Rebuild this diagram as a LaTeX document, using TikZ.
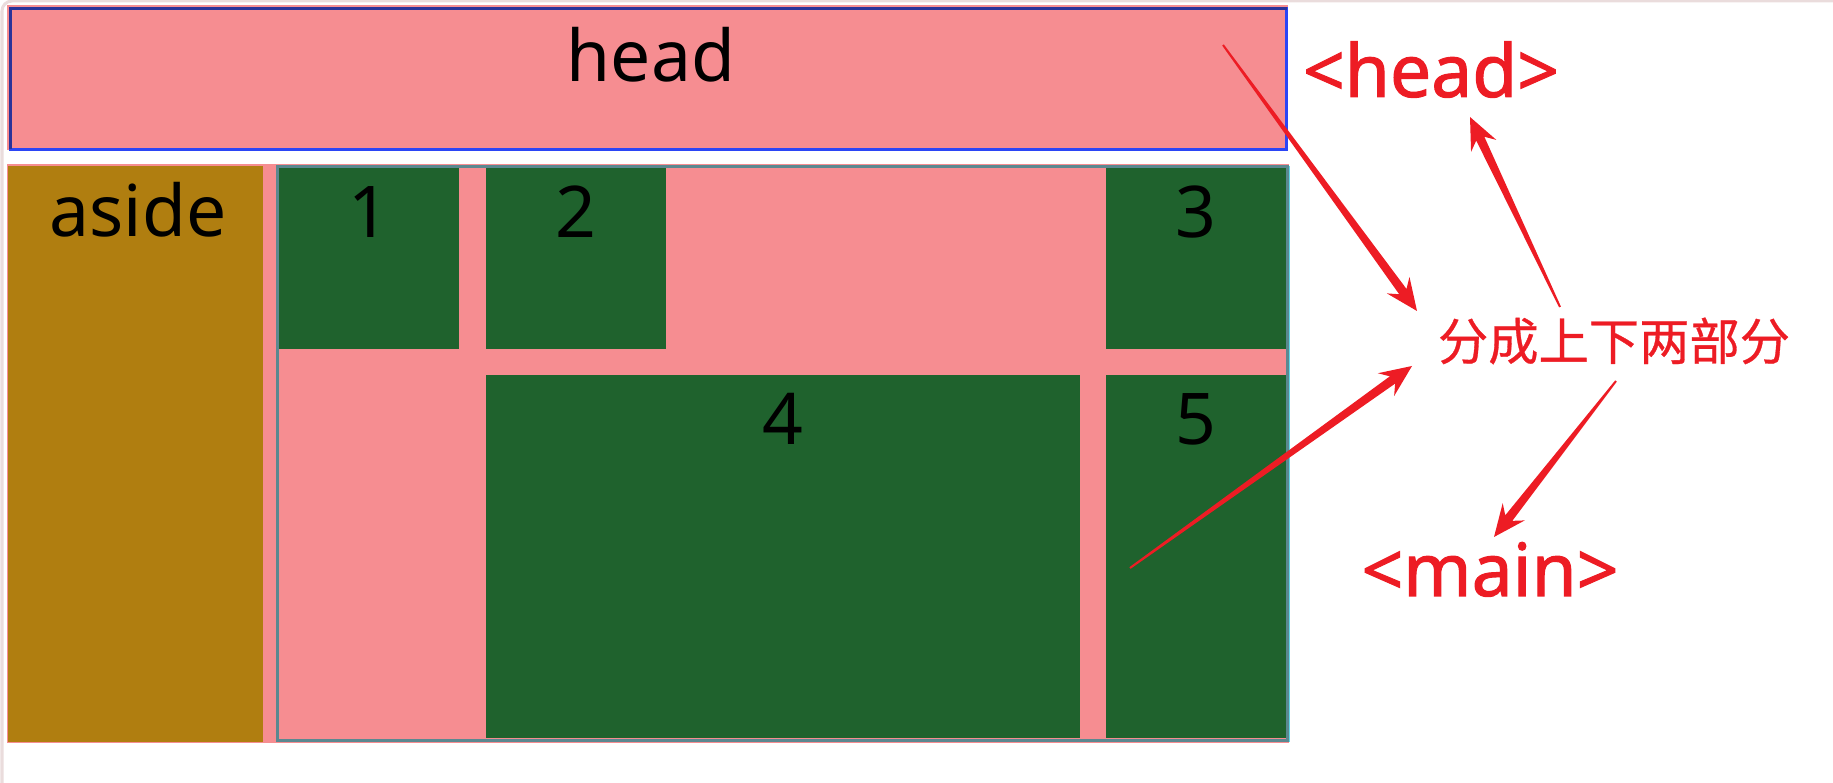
\documentclass[tikz,border=0pt]{standalone}
\usepackage{fontspec}
\setmainfont{Noto Sans}
\newfontfamily\tagfont{Noto Sans}[FakeBold=1.4]
\newfontfamily\cjk{Noto Sans CJK SC}[FakeBold=0.6]
\usetikzlibrary{calc}

\definecolor{boxpink}{HTML}{F68D91}
\definecolor{cellgreen}{HTML}{1F622D}
\definecolor{asidegold}{HTML}{B07E10}
\definecolor{headblue}{HTML}{2B45F5}
\definecolor{headnavy}{HTML}{2A3399}
\definecolor{gridgray}{HTML}{5B8890}
\definecolor{gridcyan}{HTML}{5FD8E8}
\definecolor{tagred}{HTML}{ED1C24}
\definecolor{framegray}{HTML}{EADCDC}

% tapered red arrow: #1 tail, #2 tip
\newcommand\redarrow[2]{%
  \coordinate (hb) at ($(#2)!0.24cm!(#1)$);
  \coordinate (hw) at ($(#2)!0.32cm!(#1)$);
  \fill[tagred] ($(#1)!0.01cm!90:(#2)$) -- ($(hb)!0.045cm!90:(#2)$)
    -- ($(hw)!0.14cm!90:(#2)$) -- (#2) -- ($(hw)!0.14cm!-90:(#2)$)
    -- ($(hb)!0.045cm!-90:(#2)$) -- ($(#1)!0.01cm!-90:(#2)$) -- cycle;
}

\begin{document}
\begin{tikzpicture}[x=0.01cm,y=-0.01cm,inner sep=0pt,
  numtxt/.style={anchor=base,font=\fontsize{20.3}{24}\selectfont},
  tagtxt/.style={anchor=base,text=tagred,font=\fontsize{20.8}{25}\tagfont}]
\useasboundingbox (0,0) rectangle (1833,783);

% window frame
\draw[framegray,line width=0.03cm,rounded corners=0.1cm] (2,783) -- (2,1) -- (1833,1);

% head strip
\fill[boxpink] (7,5) rectangle (1288,150);
\draw[headblue,line width=0.03cm] (10.5,8.5) rectangle (1286.5,149.5);
\draw[headnavy,line width=0.03cm] (10.5,149.5) -- (10.5,8.5) -- (1286.5,8.5);

% lower part: aside and grid
\fill[boxpink] (7,164) rectangle (1289,743);
\fill[asidegold] (8,166) rectangle (263,742);
\draw[gridgray,line width=0.03cm] (277.5,166.5) rectangle (1287.5,740.5);
\draw[gridcyan,line width=0.01cm] (1289,166) -- (1289,742);

% grid cells
\fill[cellgreen] (279,168) rectangle (459,349);
\fill[cellgreen] (486,168) rectangle (666,349);
\fill[cellgreen] (1106,168) rectangle (1286,349);
\fill[cellgreen] (486,375) rectangle (1080,738);
\fill[cellgreen] (1106,375) rectangle (1286,738);

% texts
\node[numtxt] (headtxt) at (651,82) {head};
\node[numtxt] (asidetxt) at (138,237) {aside};
\node[numtxt] (n1) at (369,238) {1};
\node[numtxt] (n2) at (576,238) {2};
\node[numtxt] (n3) at (1196,238) {3};
\node[numtxt] (n4) at (783,445) {4};
\node[numtxt] (n5) at (1196,445) {5};

% labels on the right
\node[tagtxt] (taghead) at (1431,97) {<head>};
\node[tagtxt] (tagmain) at (1490,596) {<main>};
\node[text=tagred,font=\fontsize{14.3}{17}\cjk] (split) at (1614,341) {分成上下两部分};

% arrow ends
\coordinate (t1) at (1223,45);
\coordinate (p1) at (1417,311);
\coordinate (t2) at (1560,307);
\coordinate (p2) at (1470,117);
\coordinate (t3) at (1130,568);
\coordinate (p3) at (1412,366);
\coordinate (t4) at (1616,381);
\coordinate (p4) at (1494,537);

% arrows
\redarrow{t1}{p1}
\redarrow{t2}{p2}
\redarrow{t3}{p3}
\redarrow{t4}{p4}

\end{tikzpicture}
\end{document}
